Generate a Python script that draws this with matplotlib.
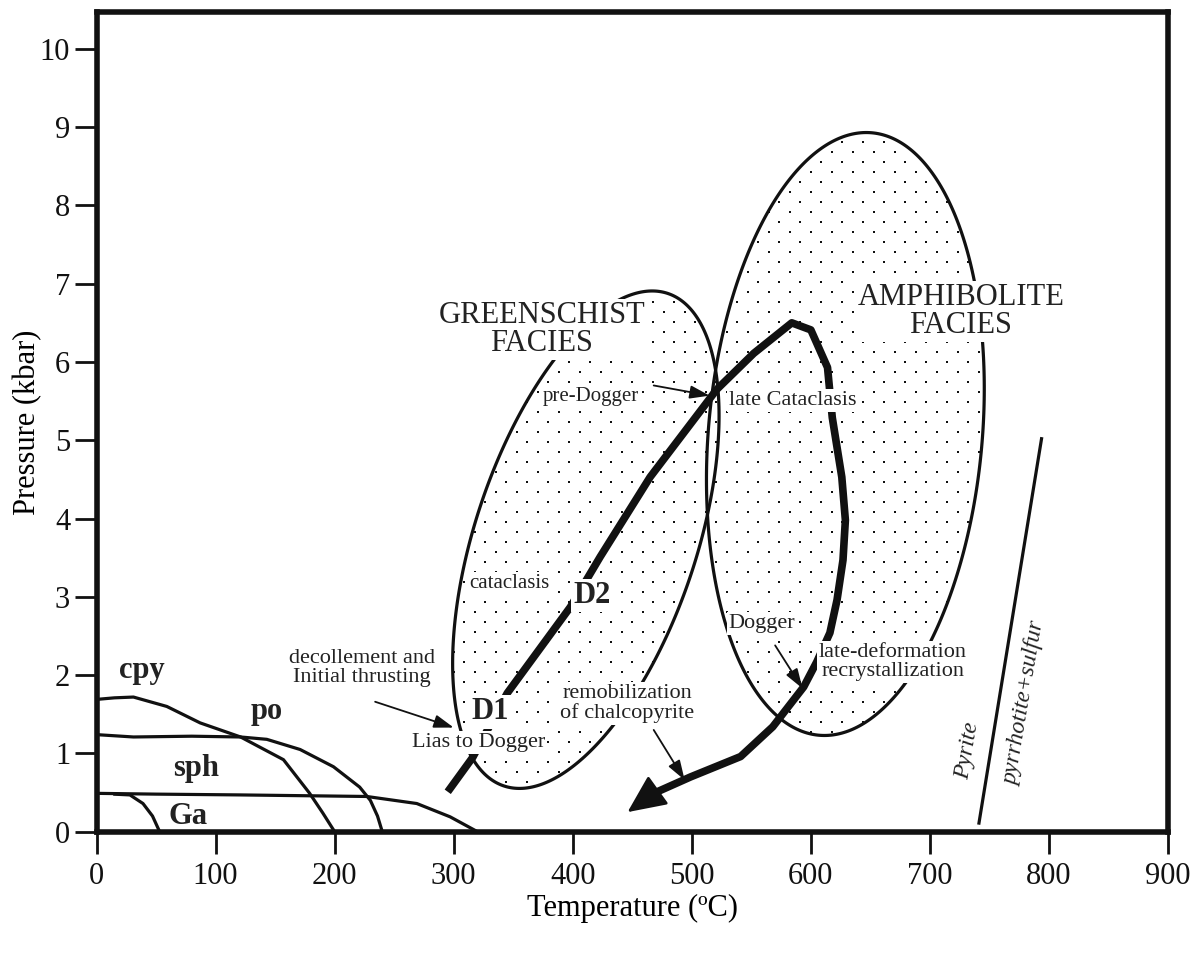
import numpy as np
import matplotlib
matplotlib.use('agg')
import matplotlib.pyplot as plt
from matplotlib.patches import Polygon

plt.rcParams['font.family'] = ['Liberation Serif', 'DejaVu Serif']

# sulfide stability curves (T in degC, P in kbar)
cpy_T = [0, 15, 31, 59, 87, 121, 157, 179, 190, 200]
cpy_P = [1.69, 1.71, 1.72, 1.60, 1.39, 1.21, 0.92, 0.49, 0.24, 0.0]
po_T = [0, 31, 80, 121, 143, 171, 199, 221, 230, 236, 240]
po_P = [1.24, 1.21, 1.22, 1.21, 1.18, 1.05, 0.83, 0.57, 0.40, 0.20, 0.0]
sph_T = [0, 50, 120, 227, 269, 297, 320]
sph_P = [0.49, 0.48, 0.47, 0.45, 0.36, 0.19, 0.0]
ga_T = [14, 28, 39, 47, 53]
ga_P = [0.48, 0.47, 0.36, 0.20, 0.0]

# pyrite / pyrrhotite+sulfur boundary
pyr_T = [741, 794]
pyr_P = [0.09, 5.04]

# P-T path
path_T = [295, 316, 345, 398, 423, 465, 521, 552, 584, 600, 614, 618, 626, 629,
          627, 622, 616, 605, 594, 568, 541, 499, 468]
path_P = [0.51, 0.95, 1.77, 2.87, 3.51, 4.53, 5.65, 6.11, 6.50, 6.41, 5.93, 5.29,
          4.53, 3.98, 3.47, 2.96, 2.54, 2.17, 1.85, 1.34, 0.96, 0.70, 0.49]
arrow_tip = (446, 0.25)

# metamorphic facies fields: centre (T, P), semi-axes (degC-equivalent), tilt (deg on page)
greenschist = dict(cT=411, cP=3.73, a=218, b=93, tilt=71.6)
amphibolite = dict(cT=629, cP=5.08, a=254, b=115, tilt=85)

fig = plt.figure(figsize=(11.95, 9.55), dpi=100)
ax = fig.add_axes([0.0808, 0.1291, 0.8966, 0.8583])
ax.set_xlim(0, 900)
ax.set_ylim(0, 10.47)

pos = ax.get_position()
px_per_T = pos.width * 1195 / 900
px_per_P = pos.height * 955 / 10.47
k = px_per_T / px_per_P   # kbar per degC-equivalent screen unit


def field(f):
    t = np.linspace(0, 2 * np.pi, 400)
    th = np.radians(f['tilt'])
    x = f['a'] * np.cos(t) * np.cos(th) - f['b'] * np.sin(t) * np.sin(th)
    y = f['a'] * np.cos(t) * np.sin(th) + f['b'] * np.sin(t) * np.cos(th)
    return np.column_stack([f['cT'] + x, f['cP'] + y * k])


# stipple texture
dx = 21 / px_per_T
dy = 10 / px_per_P
rows = np.arange(0, 10.5, dy)
gx, gy = [], []
for i, yv in enumerate(rows):
    xs = np.arange(300 + (dx / 2 if i % 2 else 0), 900, dx)
    gx.extend(xs)
    gy.extend([yv] * len(xs))

for f in (greenschist, amphibolite):
    poly = Polygon(field(f), closed=True, fill=False, lw=2.3, ec='#111', zorder=2)
    ax.add_patch(poly)
    dots = ax.scatter(gx, gy, s=3.2, marker='s', c='#111', lw=0, zorder=1)
    dots.set_clip_path(poly)

for T, P in ((cpy_T, cpy_P), (po_T, po_P), (sph_T, sph_P), (ga_T, ga_P), (pyr_T, pyr_P)):
    ax.plot(T, P, color='#111', lw=2.3, zorder=2, solid_capstyle='butt')

ax.plot(path_T, path_P, color='#111', lw=5.5, zorder=3, solid_capstyle='butt',
        solid_joinstyle='round')
ax.annotate('', xy=arrow_tip, xytext=(path_T[-1], path_P[-1]),
            arrowprops=dict(arrowstyle='-|>,head_length=1.2,head_width=0.55',
                            mutation_scale=20, lw=2, color='#111',
                            shrinkA=0, shrinkB=0), zorder=4)

wb = dict(facecolor='white', edgecolor='none', pad=1.5)
txt = dict(ha='center', va='center', color='#222', zorder=5, bbox=wb)
lab = dict(ha='center', va='center', color='#222', fontsize=22, fontweight='bold')

ax.text(38, 2.06, 'cpy', **lab)
ax.text(143, 1.53, 'po', **lab)
ax.text(84, 0.81, 'sph', **lab)
ax.text(77, 0.19, 'Ga', **lab)

ax.text(374, 6.41, 'GREENSCHIST\nFACIES', fontsize=22, linespacing=0.95, **txt)
ax.text(726, 6.65, 'AMPHIBOLITE\nFACIES', fontsize=22, linespacing=0.95, **txt)

ax.text(416, 3.02, 'D2', fontsize=22, fontweight='bold', **txt)
ax.text(331, 1.53, 'D1', fontsize=22, fontweight='bold', **txt)
ax.text(321, 1.14, 'Lias to Dogger', fontsize=16, **txt)
ax.text(347, 3.17, 'cataclasis', fontsize=15, **txt)
ax.text(415, 5.56, 'pre-Dogger', fontsize=15, **txt)
ax.text(585, 5.51, 'late Cataclasis', fontsize=16, **txt)
ax.text(559, 2.66, 'Dogger', fontsize=16, **txt)
ax.text(669, 2.17, 'late-deformation\nrecrystallization', fontsize=16,
        linespacing=1.0, **txt)
ax.text(223, 2.09, 'decollement and\nInitial thrusting', fontsize=16,
        linespacing=1.0, **txt)
ax.text(446, 1.64, 'remobilization\nof chalcopyrite', fontsize=16,
        linespacing=1.0, **txt)

ax.text(732, 1.04, 'Pyrite', fontsize=17, rotation=80.5, style='italic',
        ha='center', va='center', color='#222')
ax.text(780, 1.64, 'pyrrhotite+sulfur', fontsize=17, rotation=80.5, style='italic',
        ha='center', va='center', color='#222')

arr = dict(arrowstyle='-|>,head_length=0.6,head_width=0.2', mutation_scale=20,
           lw=1.3, color='#111', shrinkA=0, shrinkB=0)
for start, end in (((234, 1.66), (300, 1.33)),
                   ((468, 5.70), (515, 5.57)),
                   ((468, 1.30), (494, 0.66)),
                   ((570, 2.38), (593, 1.83))):
    ax.annotate('', xy=end, xytext=start, arrowprops=arr, zorder=6)

ax.set_xticks(range(0, 901, 100))
ax.set_yticks(range(0, 11))
ax.tick_params(direction='out', length=16, width=2, labelsize=22, colors='#111')
ax.tick_params(axis='x', pad=6)
ax.tick_params(axis='y', pad=3)
for s in ax.spines.values():
    s.set_linewidth(4)
    s.set_color('#111')
    s.set_zorder(10)

ax.set_xlabel('Temperature (ºC)', fontsize=22, labelpad=2)
ax.set_ylabel('Pressure (kbar)', fontsize=22, labelpad=-2)

plt.savefig('out.png', dpi=100)
plt.close()
